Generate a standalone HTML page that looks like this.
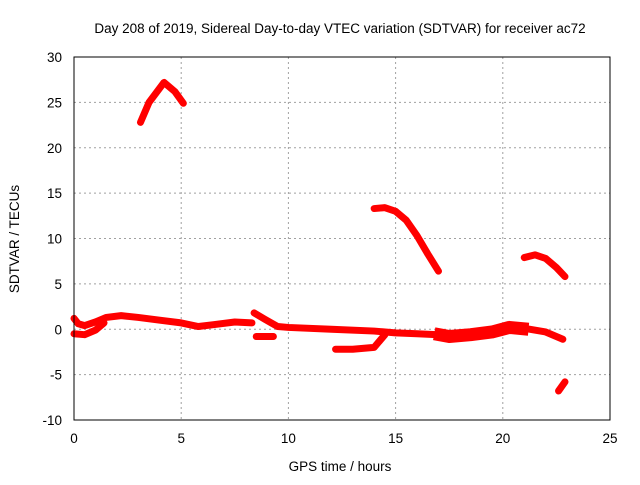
<!DOCTYPE html>
<html><head><meta charset="utf-8"><style>
body{margin:0;background:#fff}
svg text{font-family:"Liberation Sans",sans-serif;font-size:13.5px;fill:#000}
</style></head><body>
<svg id="c" width="640" height="480">
<text x="340" y="33" text-anchor="middle">Day 208 of 2019, Sidereal Day-to-day VTEC variation (SDTVAR) for receiver ac72</text>
<text x="340" y="471" text-anchor="middle">GPS time / hours</text>
<text transform="translate(19,239) rotate(-90)" text-anchor="middle">SDTVAR / TECUs</text>
<g id="grid"></g><g id="ticks"></g><g id="series"></g>
<rect x="74" y="57" width="536" height="363" fill="none" stroke="#000"/>
</svg>
<script>
const xTicks=[0,5,10,15,20,25];
const yTicks=[-10,-5,0,5,10,15,20,25,30];
const seg1=[[0,1.2],[0.2,0.6],[0.5,0.4],[1,0.8],[1.5,1.3],[2.2,1.5],[3,1.3],[4,1.0],[5,0.7],[5.8,0.3],[6.5,0.5],[7.5,0.8],[8.3,0.7]];
const seg2=[[0,-0.5],[0.5,-0.6],[1,-0.1],[1.4,0.7]];
const seg3=[[8.4,1.8],[8.9,1.1],[9.5,0.3],[10,0.2],[12,0],[14,-0.2],[15,-0.4],[16,-0.5],[17,-0.6],[18,-0.5],[19,-0.3],[20,0.2],[21,0.1],[22,-0.3],[22.8,-1.1]];
const seg4=[[8.5,-0.8],[9.3,-0.8]];
const seg5=[[12.2,-2.2],[13,-2.2],[14,-2.0],[14.5,-0.6]];
const seg6=[[3.1,22.8],[3.5,25],[4.2,27.2],[4.7,26.2],[5.1,24.9]];
const seg7=[[14,13.3],[14.5,13.4],[15,13.0],[15.5,12],[16,10.3],[16.5,8.3],[17,6.4]];
const seg8=[[21,7.9],[21.5,8.2],[22,7.8],[22.5,6.8],[22.9,5.8]];
const seg9=[[22.6,-6.8],[22.9,-5.8]];
const noisy=[[16.8,-0.5],[17.5,-0.8],[18.5,-0.6],[19.5,-0.3],[20.3,0.2],[21.2,0.0]];
const segments=[seg1,seg2,seg3,seg4,seg5,seg6,seg7,seg8,seg9];
const X=v=>74+v*536/25, Y=v=>420-(v+10)*363/40;
const NS="http://www.w3.org/2000/svg";
const grid=document.getElementById('grid'),ticks=document.getElementById('ticks'),ser=document.getElementById('series');
function mk(t,a,p){const e=document.createElementNS(NS,t);for(const k in a)e.setAttribute(k,a[k]);p.appendChild(e);return e;}
xTicks.forEach(v=>{
 if(v>0&&v<25){const g=mk('line',{x1:X(v),x2:X(v),y1:57,y2:420,stroke:'#a0a0a0','stroke-dasharray':'2,3'},grid);
 
 }
 const t=mk('text',{x:X(v),y:443,'text-anchor':'middle'},ticks);t.textContent=v;
 
 
});
yTicks.forEach(v=>{
 if(v>-10&&v<30){const g=mk('line',{x1:74,x2:610,y1:Y(v),y2:Y(v),stroke:'#a0a0a0','stroke-dasharray':'2,3'},grid);
 
 }
 const t=mk('text',{x:62,y:Y(v)+5,'text-anchor':'end'},ticks);t.textContent=v;
 
 
});
segments.forEach(s=>{
 const p=mk('polyline',{points:s.map(d=>X(d[0])+','+Y(d[1])).join(' '),fill:'none',stroke:'#ff0000','stroke-width':7,'stroke-linejoin':'round','stroke-linecap':'round'},ser);
 
 
});
const nb=mk('polyline',{points:noisy.map(d=>X(d[0])+','+Y(d[1])).join(' '),fill:'none',stroke:'#ff0000','stroke-width':13,'stroke-linejoin':'round'},ser);


</script>
</body></html>
